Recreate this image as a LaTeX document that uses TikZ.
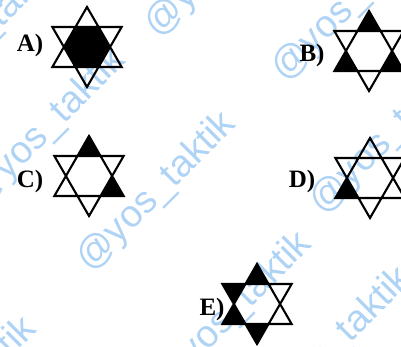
\documentclass[tikz,border=0pt]{standalone}
\usepackage{fontspec}
\setmainfont{Liberation Serif}
\newfontfamily\wmfont{Liberation Sans}
\usepackage{xcolor}
\definecolor{wmblue}{RGB}{110,175,235}
\tikzset{
    starline/.style={black, line width=2.1pt, line join=miter},
    starlabel/.style={font=\fontsize{25}{25}\selectfont\bfseries, inner sep=0pt},
    watermark/.style={wmblue, opacity=0.55, font=\wmfont\fontsize{38}{38}\selectfont, rotate=45, inner sep=0pt}
}
\newcommand{\stStar}[2]{%
    \draw[starline, shift={(#1,#2)}] (270:40) -- (30:40) -- (150:40) -- cycle
        (90:40) -- (210:40) -- (330:40) -- cycle;
}
\newcommand{\stTip}[3]{%
    \fill[black, shift={(#1,#2)}] (#3:40) -- (#3+30:23.1) -- (#3-30:23.1) -- cycle;
}
\newcommand{\stCore}[2]{%
    \fill[black, shift={(#1,#2)}] (0:23.1) -- (60:23.1) -- (120:23.1) -- (180:23.1)
        -- (240:23.1) -- (300:23.1) -- cycle;
}

\begin{document}
\begin{tikzpicture}[x=1pt, y=-1pt]
    \useasboundingbox (0,0) rectangle (401,347);
    \clip (0,0) rectangle (401,347);
    % watermarks
    \foreach \x/\y [count=\i] in {157/192, 47/128, -16/32, 225/-42, 352/2, 390/135, 233/312, 333/347, -42/397} {
        \node[watermark] (wm\i) at (\x,\y) {@yos\_taktik};
    }
    % labels
    \node[starlabel] (labA) at (30,45) {A)};
    \node[starlabel] (labB) at (312,55) {B)};
    \node[starlabel] (labC) at (30,181) {C)};
    \node[starlabel] (labD) at (302,181) {D)};
    \node[starlabel] (labE) at (212,309) {E)};
    % A
    \stCore{87}{47}
    \stStar{87}{47}
    % B
    \stTip{369}{51}{270}
    \stTip{369}{51}{150}
    \stTip{369}{51}{30}
    \stStar{369}{51}
    % C
    \stTip{89}{176}{270}
    \stTip{89}{176}{30}
    \stStar{89}{176}
    % D
    \stTip{370}{178}{150}
    \stStar{370}{178}
    % E
    \stTip{257}{304}{270}
    \stTip{257}{304}{210}
    \stTip{257}{304}{150}
    \stTip{257}{304}{90}
    \stStar{257}{304}
\end{tikzpicture}
\end{document}
